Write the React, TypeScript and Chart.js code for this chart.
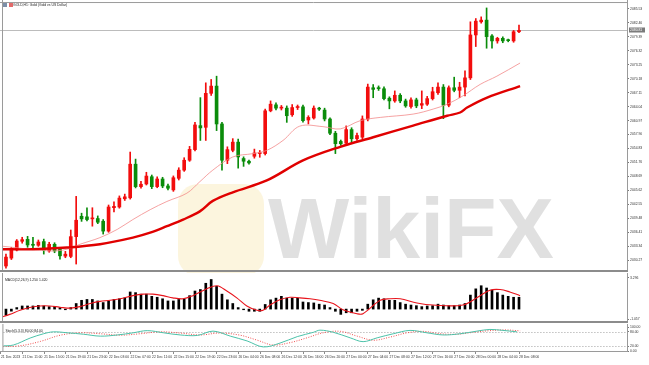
import React, { useEffect, useRef } from 'react';
import { Chart, registerables } from 'chart.js';
Chart.register(...registerables);

const FONT = '"Liberation Sans", Arial, sans-serif';
const X_MIN = -0.55;
const X_MAX = 115;
const RED = '#f20d0d';
const GREEN = '#0a8c0a';
const TICK_FONT = 3.4;

const timeLabels = [
  '21 Dec 2023', '21 Dec 11:00', '21 Dec 15:00', '21 Dec 19:00', '21 Dec 23:00',
  '22 Dec 03:00', '22 Dec 07:00', '22 Dec 11:00', '22 Dec 15:00', '22 Dec 19:00',
  '22 Dec 23:00', '26 Dec 04:00', '26 Dec 08:00', '26 Dec 12:00', '26 Dec 16:00',
  '26 Dec 20:00', '27 Dec 00:00', '27 Dec 04:00', '27 Dec 08:00', '27 Dec 12:00',
  '27 Dec 16:00', '27 Dec 20:00', '28 Dec 00:00', '28 Dec 04:00', '28 Dec 08:00',
];

const priceTicks = [2085.53, 2082.46, 2079.39, 2076.32, 2073.25, 2070.18, 2067.11, 2064.04, 2060.97, 2057.90,
  2054.83, 2051.76, 2048.69, 2045.62, 2042.55, 2039.48, 2036.41, 2033.34, 2030.27];
const macdTicks = [3.296, -1.057];
const stochTicks = [100, 80, 20, 0];
const stochLevels = [80, 20];

const opens = [
  2028.98, 2030.72, 2032.52, 2034.42, 2034.85, 2033.76, 2033.54, 2034.35, 2032.30, 2033.76,
  2032.68, 2031.15, 2031.09, 2035.44, 2039.92, 2039.79, 2039.35, 2039.42, 2038.83, 2036.66,
  2041.81, 2041.96, 2043.77, 2043.98, 2051.38, 2046.44, 2047.03, 2048.62, 2046.44, 2048.12,
  2046.59, 2045.72, 2048.27, 2050.07, 2052.25, 2054.58, 2059.86, 2059.49, 2066.97, 2068.56,
  2060.23, 2052.25, 2054.43, 2056.23, 2052.62, 2052.03, 2053.12, 2053.71, 2053.71, 2063.12,
  2064.43, 2063.71, 2063.71, 2062.25, 2063.84, 2063.99, 2061.10, 2061.54, 2063.60, 2063.28,
  2061.32, 2058.19, 2056.38, 2056.01, 2058.99, 2056.97, 2057.32, 2061.32, 2068.19, 2068.06,
  2067.97, 2065.89, 2065.30, 2066.54, 2065.30, 2064.06, 2065.52, 2064.36, 2064.58, 2065.80,
  2067.10, 2068.34, 2064.36, 2068.19, 2067.63, 2068.34, 2070.37, 2079.81, 2082.70, 2083.07,
  2079.59, 2078.50, 2079.07, 2078.60, 2078.50, 2080.52,
];
const closes = [
  2030.94, 2032.68, 2034.48, 2034.78, 2033.61, 2033.54, 2034.26, 2032.46, 2033.76, 2032.30,
  2031.22, 2031.59, 2035.44, 2039.05, 2039.35, 2039.20, 2039.42, 2038.61, 2036.66, 2041.96,
  2042.09, 2043.92, 2044.20, 2051.38, 2046.44, 2046.96, 2048.77, 2046.44, 2048.12, 2046.59,
  2046.09, 2048.40, 2050.07, 2052.25, 2054.64, 2060.01, 2059.36, 2066.97, 2068.56, 2060.23,
  2052.25, 2054.58, 2056.23, 2052.97, 2052.03, 2051.66, 2053.84, 2053.80, 2063.12, 2064.58,
  2063.71, 2063.90, 2062.04, 2063.84, 2063.95, 2060.95, 2061.67, 2063.71, 2063.49, 2061.32,
  2058.19, 2055.88, 2055.88, 2058.99, 2056.97, 2057.69, 2061.32, 2068.34, 2067.84, 2068.00,
  2065.80, 2065.30, 2066.54, 2065.30, 2064.21, 2065.52, 2064.21, 2064.71, 2065.80, 2067.32,
  2068.34, 2064.36, 2068.19, 2067.63, 2068.34, 2070.37, 2079.81, 2082.85, 2083.07, 2079.44,
  2078.50, 2079.07, 2078.50, 2078.55, 2080.52, 2080.81,
];
const highs = [
  2031.60, 2033.10, 2034.80, 2035.30, 2035.50, 2035.30, 2034.70, 2034.90, 2034.20, 2034.10,
  2033.00, 2032.20, 2036.90, 2044.30, 2040.60, 2041.80, 2041.80, 2040.00, 2039.20, 2042.40,
  2043.10, 2044.40, 2044.80, 2054.05, 2052.50, 2047.60, 2049.60, 2049.00, 2048.60, 2048.50,
  2047.00, 2048.80, 2050.60, 2052.80, 2055.30, 2060.60, 2066.02, 2069.28, 2070.02, 2070.74,
  2060.60, 2055.20, 2057.00, 2056.90, 2053.00, 2052.30, 2054.70, 2054.40, 2063.50, 2065.30,
  2064.90, 2064.30, 2064.20, 2064.50, 2064.40, 2064.40, 2062.04, 2064.20, 2063.90, 2063.70,
  2061.60, 2058.60, 2056.70, 2059.80, 2059.40, 2058.20, 2062.00, 2069.00, 2068.90, 2068.60,
  2068.40, 2066.20, 2067.50, 2066.90, 2065.70, 2066.00, 2065.90, 2067.50, 2066.30, 2068.30,
  2069.30, 2068.90, 2068.60, 2070.52, 2069.40, 2071.90, 2082.70, 2083.42, 2083.79, 2085.75,
  2079.90, 2079.30, 2079.40, 2078.90, 2080.80, 2081.98,
];
const lows = [
  2028.50, 2030.40, 2032.30, 2034.00, 2033.10, 2033.00, 2033.30, 2031.60, 2032.00, 2031.90,
  2030.50, 2030.80, 2030.80, 2029.41, 2038.80, 2038.90, 2037.74, 2038.30, 2036.00, 2036.40,
  2040.90, 2041.70, 2043.40, 2043.70, 2046.16, 2046.10, 2046.80, 2046.00, 2046.20, 2046.20,
  2045.70, 2045.40, 2047.90, 2049.80, 2052.00, 2054.30, 2056.60, 2056.60, 2066.50, 2058.77,
  2050.07, 2051.50, 2054.10, 2050.51, 2050.90, 2051.40, 2052.70, 2052.90, 2053.40, 2062.90,
  2063.30, 2063.30, 2060.58, 2061.90, 2063.40, 2060.60, 2060.23, 2061.30, 2063.20, 2060.90,
  2057.90, 2053.71, 2055.51, 2055.70, 2056.00, 2056.60, 2057.00, 2060.90, 2066.00, 2067.60,
  2065.50, 2063.56, 2065.00, 2064.90, 2063.90, 2063.70, 2063.80, 2063.60, 2064.30, 2065.50,
  2066.70, 2061.39, 2064.00, 2067.30, 2066.00, 2066.40, 2070.00, 2077.26, 2082.40, 2076.89,
  2076.89, 2078.00, 2078.10, 2078.30, 2078.20, 2080.30,
];

// [bar index, value]
const slowMA = [
  [-1.1, 2032.67], [5, 2032.67], [11.3, 2033.04], [17.4, 2033.76], [23.5, 2035.22], [26.7, 2036.3],
  [29.8, 2037.74], [32.8, 2039.2], [35.9, 2041.0], [38.3, 2043.3], [42, 2045.2], [48.3, 2047.8],
  [55, 2052.2], [61.9, 2055.2], [68, 2057.3], [75.4, 2059.86], [81.7, 2062.04], [84.1, 2062.75],
  [85.4, 2063.84], [89.1, 2066.02], [95.2, 2068.56],
];
const fastMA = [
  [-1.1, 2033.39], [8.1, 2032.3], [11.3, 2032.67], [13.7, 2033.76], [17.4, 2035.22], [20.6, 2037.03],
  [23.5, 2039.2], [26.7, 2041.37], [29.8, 2043.18], [33.5, 2045.0], [35.9, 2047.53], [38.3, 2050.07],
  [42, 2052.97], [45.7, 2053.7], [48.3, 2054.42], [51.3, 2056.6], [54.4, 2059.75], [58.7, 2059.64],
  [61.9, 2059.14], [65.6, 2060.95], [69.3, 2061.67], [75.4, 2062.4], [79.1, 2063.5], [81.7, 2064.58],
  [84.6, 2066.4], [87.8, 2068.93], [90.9, 2070.74], [95.2, 2073.63],
];

const macdHist = [
  -0.65, -0.22, 0.16, 0.33, 0.33, 0.33, 0.39, 0.33, 0.26, 0.26,
  0.16, -0.07, 0.16, 0.59, 0.93, 1.02, 1.02, 0.86, 0.69, 0.86,
  1.02, 1.09, 1.19, 1.81, 1.74, 1.58, 1.58, 1.35, 1.25, 1.09,
  0.86, 0.86, 1.02, 1.09, 1.42, 1.91, 2.07, 2.73, 3.13, 2.40,
  1.58, 0.98, 0.59, 0.16, -0.07, -0.23, -0.23, -0.23, 0.49, 0.98,
  1.16, 1.35, 1.16, 1.16, 1.16, 0.75, 0.69, 0.65, 0.52, 0.43,
  0.16, -0.23, -0.56, -0.39, -0.39, -0.23, -0.13, 0.52, 0.98, 1.16,
  1.09, 0.93, 0.93, 0.69, 0.52, 0.43, 0.36, 0.26, 0.33, 0.36,
  0.52, 0.43, 0.36, 0.36, 0.43, 0.59, 1.48, 2.14, 2.47, 2.23,
  2.01, 1.74, 1.48, 1.35, 1.25, 1.25,
];
const macdSignal = [
  [-1.1, -0.89], [0.7, -0.56], [2.6, -0.13], [4.4, 0.16], [6.3, 0.33], [8.1, 0.33], [10, 0.2],
  [11.9, 0.1], [13.7, 0.26], [15.6, 0.59], [17.4, 0.82], [19.3, 0.93], [21.1, 1.09], [23.5, 1.42],
  [25.4, 1.58], [27.2, 1.58], [29.1, 1.42], [30.9, 1.19], [32.8, 1.09], [34.6, 1.42], [37.2, 2.14],
  [39.1, 2.47], [40.9, 1.91], [42.8, 1.16], [44.6, 0.33], [46.5, -0.13], [47.6, -0.13], [48.9, 0.43],
  [50.7, 0.98], [52.6, 1.25], [54.4, 1.19], [56.3, 1.09], [58.1, 0.93], [60.6, 0.59], [62.4, -0.07],
  [65, -0.49], [66.1, -0.49], [69.3, 0.93], [71.1, 1.09], [73, 1.09], [76.1, 0.65], [79.1, 0.43],
  [84.6, 0.43], [87.8, 1.42], [89.6, 2.0], [91.5, 2.07], [93.3, 1.81], [95.2, 1.42],
];

const stochMain = [
  [-1.1, 21], [1.3, 25], [4.4, 54], [6.9, 72], [8.7, 80], [11.3, 76], [14.3, 70], [17.4, 62],
  [20.6, 67], [23.5, 76], [26.1, 85], [29.1, 76], [32.2, 67], [35.4, 65], [38.3, 83], [41.5, 62],
  [44.6, 42], [47.6, 17], [50.7, 33], [53.9, 60], [56.9, 78], [58.1, 87], [60.6, 78], [63.7, 55],
  [66.1, 39], [68.7, 55], [71.7, 72], [74.8, 86], [77.9, 76], [80.9, 67], [84.1, 72], [87.2, 83],
  [89.6, 90], [92, 86], [94.6, 80],
];
const stochSignal = [
  [-1.1, 18], [2.6, 22], [6.3, 40], [10, 66], [13.7, 76], [17.4, 72], [21.1, 66], [24.8, 72],
  [28.5, 80], [32.2, 75], [35.9, 67], [39.6, 75], [43.3, 66], [46.5, 45], [49.4, 25], [52.6, 35],
  [55.7, 55], [58.7, 76], [61.9, 82], [65, 62], [68, 45], [71.1, 58], [74.3, 76], [77.2, 82],
  [80.4, 72], [83.5, 70], [86.5, 78], [89.6, 85], [92.4, 88], [95.2, 84],
];

const pts = (arr: number[][]) => arr.map(([x, y]) => ({ x, y }));
const candleColors = opens.map((o, i) => (closes[i] >= o ? RED : GREEN));
const currentPrice = closes[closes.length - 1];

function xScale(display: boolean): any {
  const s: any = {
    type: 'linear', min: X_MIN, max: X_MAX, bounds: 'data', display, offset: false,
    grid: { drawOnChartArea: false, drawTicks: true, tickLength: 3, color: '#8a8a8a' },
    border: { display: false },
    ticks: {
      autoSkip: false, maxRotation: 0, minRotation: 0, align: 'start', padding: 1,
      font: { size: TICK_FONT, family: FONT }, color: '#333',
      callback: (_v: any, i: number) => timeLabels[i] ?? '',
    },
    afterBuildTicks: (sc: any) => { sc.ticks = timeLabels.map((_, k) => ({ value: k * 4 - 1 })); },
  };
  if (display) s.afterFit = (sc: any) => { sc.height = 14; };
  return s;
}

function yScale(min: number, max: number, ticks: number[], digits: number): any {
  return {
    type: 'linear', position: 'right', min, max, bounds: 'data',
    grid: { drawOnChartArea: false, drawTicks: true, tickLength: 2, color: '#777' },
    border: { display: false },
    ticks: { padding: 1, font: { size: TICK_FONT, family: FONT }, color: '#333', autoSkip: false,
      callback: (v: any) => Number(v).toFixed(digits) },
    afterBuildTicks: (s: any) => { s.ticks = ticks.map((value) => ({ value })); },
    afterFit: (s: any) => { s.width = 22; },
  };
}

function panelPlugin(cfg: { label?: string; title?: boolean; separator?: boolean; top?: boolean;
  watermark?: boolean; priceLine?: number; levels?: number[]; bottomLine?: boolean }) {
  return {
    id: 'panel',
    beforeDatasetsDraw(chart: any) {
      const { ctx, chartArea: a, scales } = chart;
      ctx.save();
      if (cfg.watermark) {
        ctx.fillStyle = 'rgba(250,236,190,0.5)';
        ctx.beginPath();
        (ctx as any).roundRect(178, 184, 86, 92, 20);
        ctx.fill();
        ctx.font = `bold 86px ${FONT}`;
        ctx.fillStyle = '#e0e0e0';
        ctx.textBaseline = 'alphabetic';
        ctx.fillText('WikiFX', 268, 258);
      }
      if (cfg.priceLine !== undefined) {
        const y = Math.round(scales.y.getPixelForValue(cfg.priceLine)) + 0.5;
        ctx.strokeStyle = '#bcbcbc';
        ctx.lineWidth = 1;
        ctx.beginPath(); ctx.moveTo(0, y); ctx.lineTo(a.right, y); ctx.stroke();
      }
      if (cfg.levels) {
        ctx.setLineDash([1, 2]);
        ctx.strokeStyle = '#a0a0a0';
        ctx.lineWidth = 1;
        for (const lv of cfg.levels) {
          const y = Math.round(scales.y.getPixelForValue(lv)) + 0.5;
          ctx.beginPath(); ctx.moveTo(a.left, y); ctx.lineTo(a.right, y); ctx.stroke();
        }
      }
      ctx.restore();
    },
    afterDraw(chart: any) {
      const { ctx, chartArea: a, scales } = chart;
      ctx.save();
      ctx.strokeStyle = '#9a9a9a';
      ctx.lineWidth = 1;
      ctx.beginPath();
      ctx.moveTo(a.left - 0.5, 0); ctx.lineTo(a.left - 0.5, a.bottom);
      ctx.moveTo(a.right + 0.5, 0); ctx.lineTo(a.right + 0.5, a.bottom + 1);
      if (cfg.top) { ctx.moveTo(0, a.top - 0.5); ctx.lineTo(a.right, a.top - 0.5); }
      if (cfg.bottomLine) { ctx.moveTo(0, a.bottom + 0.5); ctx.lineTo(a.right, a.bottom + 0.5); }
      ctx.stroke();
      if (cfg.separator) {
        ctx.strokeStyle = '#8c8c8c';
        ctx.lineWidth = 2;
        ctx.beginPath(); ctx.moveTo(0, a.bottom + 1); ctx.lineTo(a.right + 1, a.bottom + 1); ctx.stroke();
      }
      ctx.font = `${TICK_FONT}px ${FONT}`;
      ctx.textBaseline = 'middle';
      ctx.fillStyle = '#222';
      if (cfg.label) ctx.fillText(cfg.label, a.left + 2, a.top + 4);
      if (cfg.title) {
        ctx.fillStyle = '#7d8fa8'; ctx.fillRect(3, 3, 4, 4);
        ctx.fillStyle = '#e26a6a'; ctx.fillRect(9, 3, 4, 4);
        ctx.fillStyle = '#222';
        ctx.fillText('GOLD,H1: Gold (Gold vs US Dollar)', 13, 5.5);
      }
      if (cfg.priceLine !== undefined) {
        const y = Math.round(scales.y.getPixelForValue(cfg.priceLine));
        ctx.fillStyle = '#7b7b7b';
        ctx.fillRect(a.right + 2, y - 2.5, 16, 5);
        ctx.fillStyle = '#fff';
        ctx.fillText(cfg.priceLine.toFixed(2), a.right + 3, y + 0.2);
      }
      ctx.restore();
    },
  };
}

const baseOptions = (scales: any, padding: any): any => ({
  responsive: false,
  animation: false,
  events: [],
  layout: { padding },
  plugins: { legend: { display: false }, tooltip: { enabled: false } },
  scales,
});

export default function App() {
  const mainRef = useRef<HTMLCanvasElement>(null);
  const macdRef = useRef<HTMLCanvasElement>(null);
  const stochRef = useRef<HTMLCanvasElement>(null);

  useEffect(() => {
    const charts: Chart[] = [];
    charts.push(new Chart(mainRef.current!, {
      type: 'bar',
      data: {
        datasets: [
          { type: 'line', data: pts(slowMA), borderColor: '#e00000', borderWidth: 2.4, pointRadius: 0, tension: 0.35, order: 0 } as any,
          { type: 'line', data: pts(fastMA), borderColor: '#f28a8a', borderWidth: 0.8, pointRadius: 0, tension: 0.35, order: 0 } as any,
          { type: 'bar', data: lows.map((l, i) => ({ x: i, y: [l, highs[i]] })), backgroundColor: candleColors, barThickness: 1, grouped: false, order: 2 } as any,
          { type: 'bar', data: opens.map((o, i) => ({ x: i, y: [o, closes[i]] })), backgroundColor: candleColors, barThickness: 3, minBarLength: 1, grouped: false, order: 1 } as any,
        ],
      },
      options: baseOptions({ x: xScale(false), y: yScale(2028.11, 2086.83, priceTicks, 2) }, { left: 3, top: 1, bottom: 2, right: 0 }),
      plugins: [panelPlugin({ title: true, top: true, separator: true, watermark: true, priceLine: currentPrice })],
    }));
    charts.push(new Chart(macdRef.current!, {
      type: 'bar',
      data: {
        datasets: [
          { type: 'line', data: pts(macdSignal), borderColor: '#e8141c', borderWidth: 1.1, pointRadius: 0, tension: 0.35, order: 0 } as any,
          { type: 'bar', data: macdHist.map((v, i) => ({ x: i, y: v })), backgroundColor: '#000', barThickness: 2, order: 1 } as any,
        ],
      },
      options: baseOptions({ x: xScale(false), y: yScale(-1.255, 3.494, macdTicks, 3) }, { left: 3, top: 1, bottom: 2, right: 0 }),
      plugins: [panelPlugin({ label: 'MACD(12,26,9) 1.250 1.420', separator: true })],
    }));
    charts.push(new Chart(stochRef.current!, {
      type: 'line',
      data: {
        datasets: [
          { data: pts(stochMain), borderColor: '#4cc2a9', borderWidth: 1, pointRadius: 0, tension: 0.35 } as any,
          { data: pts(stochSignal), borderColor: '#f05050', borderWidth: 1, borderDash: [1, 1.5], pointRadius: 0, tension: 0.35 } as any,
        ],
      },
      options: baseOptions({ x: xScale(true), y: yScale(0, 100, stochTicks, 2) }, { left: 3, top: 1, bottom: 0, right: 0 }),
      plugins: [panelPlugin({ label: 'Stoch(5,3,3) 80.00 84.00', levels: stochLevels, bottomLine: true })],
    }));
    return () => charts.forEach((c) => c.destroy());
  }, []);

  return (
    <div style={{ position: 'fixed', left: 0, top: 0, width: 649, height: 365, background: '#fff' }}>
      <canvas ref={mainRef} width={649} height={273} style={{ position: 'absolute', left: 0, top: 0 }} />
      <canvas ref={macdRef} width={649} height={51} style={{ position: 'absolute', left: 0, top: 273 }} />
      <canvas ref={stochRef} width={649} height={41} style={{ position: 'absolute', left: 0, top: 324 }} />
    </div>
  );
}
